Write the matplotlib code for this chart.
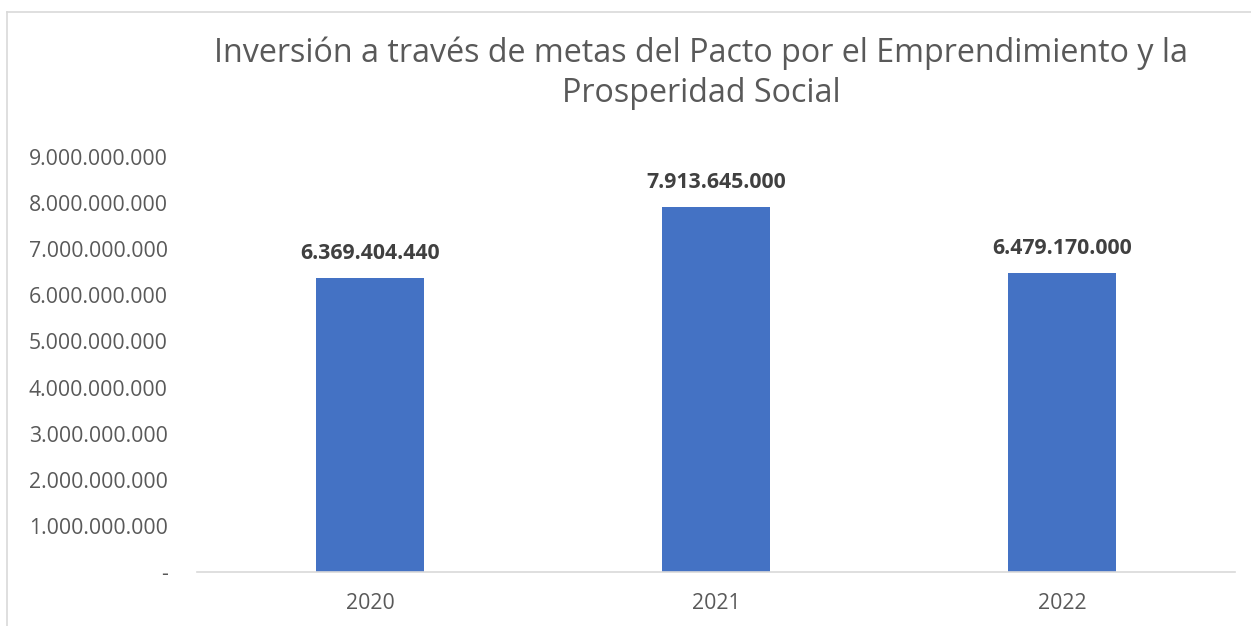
import matplotlib.pyplot as plt
from matplotlib.lines import Line2D

# data
years = ['2020', '2021', '2022']
inversion = [6369404440, 7913645000, 6479170000]
y_ticks = [0, 1e9, 2e9, 3e9, 4e9, 5e9, 6e9, 7e9, 8e9, 9e9]

plt.rcParams['font.family'] = ['Open Sans', 'DejaVu Sans']


def fmt_miles(v):
    # thousands separated by dots, zero shown as a dash
    if v == 0:
        return '-'
    return '{:,.0f}'.format(v).replace(',', '.')


fig = plt.figure(figsize=(12.51, 6.26), dpi=100)
ax = fig.add_axes([197 / 1251, 1 - 572 / 626, 1038 / 1251, (572 - 157) / 626])

x = range(len(years))
bars = ax.bar(x, inversion, width=0.312, color='#4472C4', zorder=2)

ax.set_xlim(-0.5, 2.5)
ax.set_ylim(0, 9e9)
ax.set_yticks(y_ticks)
ax.set_yticklabels([fmt_miles(v) for v in y_ticks])
ax.set_xticks(list(x))
ax.set_xticklabels(years)

for b, v in zip(bars, inversion):
    ax.annotate(fmt_miles(v), (b.get_x() + b.get_width() / 2, v),
                xytext=(0, 10), textcoords='offset points',
                ha='center', va='bottom', fontsize=15.3, fontweight='bold',
                color='#404040')

for s in ['top', 'right', 'left']:
    ax.spines[s].set_visible(False)
ax.spines['bottom'].set_color('#D9D9D9')
ax.spines['bottom'].set_linewidth(1.2)
ax.tick_params(axis='both', length=0, labelsize=15.3, colors='#595959')
ax.tick_params(axis='y', pad=21)
ax.tick_params(axis='x', pad=15)

fig.text(701 / 1251, 1 - 73 / 626,
         'Inversión a través de metas del Pacto por el Emprendimiento y la\nProsperidad Social',
         ha='center', va='center', fontsize=23.2, color='#595959', linespacing=1.3)

# chart border (top and left visible)
fig.add_artist(Line2D([7 / 1251, 1], [1 - 12 / 626, 1 - 12 / 626],
                      transform=fig.transFigure, color='#D9D9D9', lw=1.2))
fig.add_artist(Line2D([7 / 1251, 7 / 1251], [0, 1 - 12 / 626],
                      transform=fig.transFigure, color='#D9D9D9', lw=1.2))

fig.savefig('out.png', dpi=100)
